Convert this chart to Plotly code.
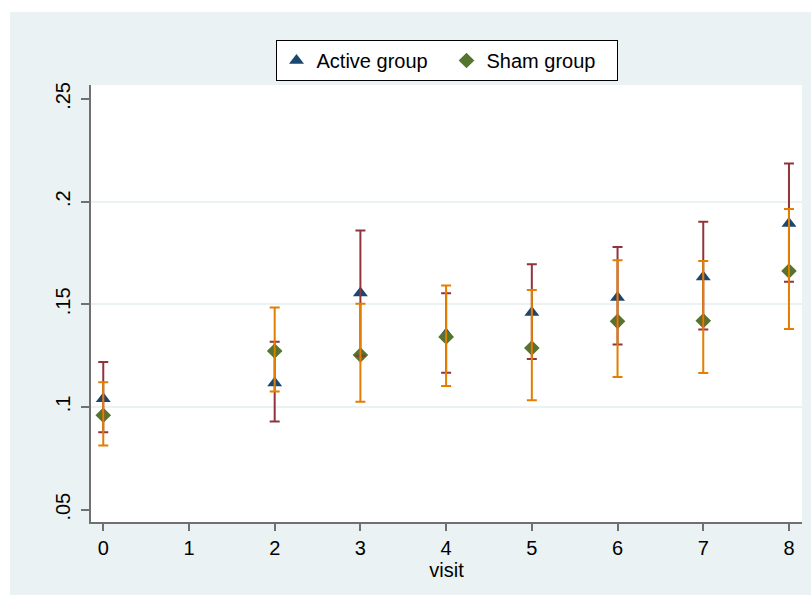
import plotly.graph_objects as go

# Visits and group summaries (mean with lower/upper confidence limits)
visits = [0, 2, 3, 4, 5, 6, 7, 8]

active_mean = [0.1040, 0.1117, 0.1555, 0.1355, 0.1460, 0.1533, 0.1633, 0.1893]
active_lo = [0.0877, 0.0929, 0.1250, 0.1167, 0.1234, 0.1304, 0.1378, 0.1610]
active_hi = [0.1219, 0.1318, 0.1860, 0.1554, 0.1695, 0.1779, 0.1902, 0.2186]

sham_mean = [0.0960, 0.1273, 0.1253, 0.1341, 0.1287, 0.1417, 0.1420, 0.1662]
sham_lo = [0.0813, 0.1076, 0.1026, 0.1102, 0.1033, 0.1146, 0.1165, 0.1380]
sham_hi = [0.1120, 0.1485, 0.1503, 0.1592, 0.1570, 0.1715, 0.1711, 0.1964]

x_ticks = [0, 1, 2, 3, 4, 5, 6, 7, 8]
y_ticks = [0.05, 0.10, 0.15, 0.20, 0.25]
y_tick_text = [".05", ".1", ".15", ".2", ".25"]
y_grid = [0.10, 0.15, 0.20]

NAVY = "#1a476f"
GREEN = "#55752f"
MAROON = "#90353b"
ORANGE = "#e37e00"
PANEL = "#eaf2f3"
AXIS = "#707070"
FONT = "Liberation Sans, Arial, sans-serif"

W, H = 811, 595
ML, MR, MT, MB = 91, 9, 85, 73
PW, PH = W - ML - MR, H - MT - MB


def px_to_paper_y(py):
    return (H - MB - py) / PH


def px_to_paper_x(px):
    return (px - ML) / PW


fig = go.Figure()

# point estimates
fig.add_trace(go.Scatter(
    x=visits, y=active_mean, mode="markers", name="Active group",
    marker=dict(symbol="triangle-up", size=13, color=NAVY, line=dict(width=0)),
))
fig.add_trace(go.Scatter(
    x=visits, y=sham_mean, mode="markers", name="Sham group",
    marker=dict(symbol="diamond", size=12, color=GREEN, line=dict(width=0)),
))


def ci_trace(mean, lo, hi, color):
    return go.Scatter(
        x=visits, y=mean, mode="markers", showlegend=False, hoverinfo="skip",
        marker=dict(color="rgba(0,0,0,0)", size=1),
        error_y=dict(
            type="data", symmetric=False,
            array=[h - m for h, m in zip(hi, mean)],
            arrayminus=[m - l for m, l in zip(mean, lo)],
            color=color, thickness=2, width=5,
        ),
    )


# confidence-interval caps drawn over the markers
fig.add_trace(ci_trace(active_mean, active_lo, active_hi, MAROON))
fig.add_trace(ci_trace(sham_mean, sham_lo, sham_hi, ORANGE))

# white border strips around the graph region (top and left)
fig.add_shape(type="rect", xref="paper", yref="paper", layer="below",
              x0=px_to_paper_x(0), x1=px_to_paper_x(W),
              y0=px_to_paper_y(12), y1=px_to_paper_y(0),
              fillcolor="white", line=dict(width=0))
fig.add_shape(type="rect", xref="paper", yref="paper", layer="below",
              x0=px_to_paper_x(0), x1=px_to_paper_x(10),
              y0=px_to_paper_y(H), y1=px_to_paper_y(0),
              fillcolor="white", line=dict(width=0))

fig.update_layout(
    width=W, height=H,
    margin=dict(l=ML, r=MR, t=MT, b=MB, pad=0),
    paper_bgcolor=PANEL, plot_bgcolor="white",
    font=dict(family=FONT, size=20, color="black"),
    showlegend=True,
    legend=dict(
        orientation="h", x=0.5, xanchor="center", y=px_to_paper_y(40), yanchor="top",
        bgcolor="white", bordercolor="black", borderwidth=1,
        font=dict(family=FONT, size=20, color="black"),
        itemwidth=30, entrywidth=125,
    ),
    xaxis=dict(
        range=[-0.143, 8.152], tickmode="array", tickvals=x_ticks,
        showgrid=False, zeroline=False,
        showline=True, linecolor=AXIS, linewidth=1.5,
        ticks="outside", ticklen=7, tickcolor=AXIS, tickwidth=1.5,
        tickfont=dict(family=FONT, size=20, color="black"),
        title=dict(text="visit", standoff=1, font=dict(family=FONT, size=20, color="black")),
    ),
    yaxis=dict(
        range=[0.044, 0.2568], tickmode="array", tickvals=y_ticks, ticktext=y_tick_text,
        tickangle=-90, showgrid=False, zeroline=False,
        showline=True, linecolor=AXIS, linewidth=1.5,
        ticks="outside", ticklen=8, tickcolor=AXIS, tickwidth=1.5,
        tickfont=dict(family=FONT, size=20, color="black"),
        ticklabelstandoff=3,
        minor=dict(tickvals=y_grid, showgrid=True, gridcolor=PANEL, gridwidth=1.5, ticks=""),
    ),
)

fig.write_html("out.html")
